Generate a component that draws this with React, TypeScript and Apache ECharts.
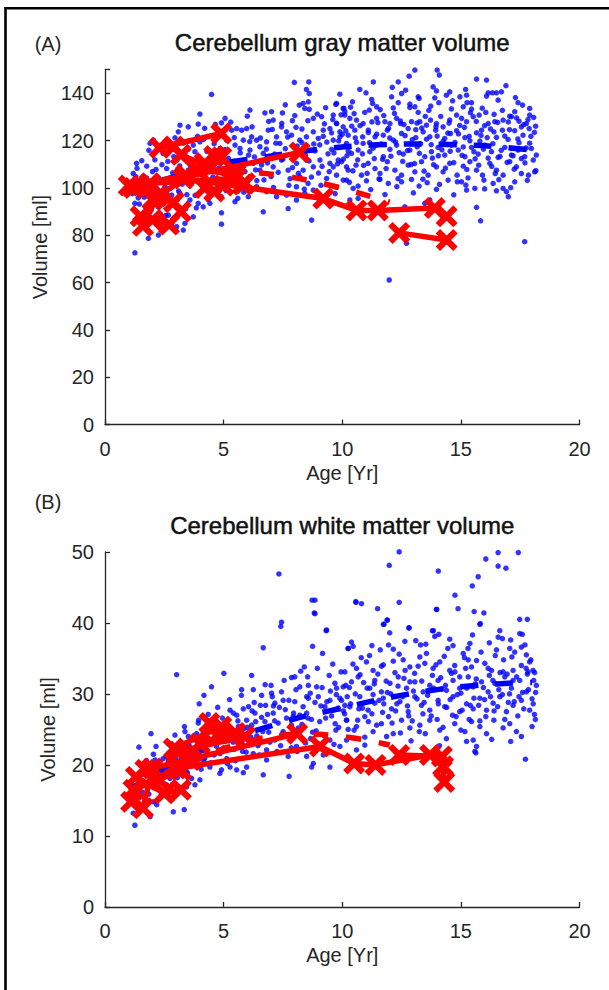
import React, { useEffect, useRef } from "react";
import * as echarts from "echarts";

// ---------- DATA ----------
const xTicks = [0, 5, 10, 15, 20];
const gmYMax = 150;
const wmYMax = 50;

// Panel A: normative scatter [age (yr), volume (ml)]
const gmScatter: number[][] = [
  [1.26,72.6],[1.83,78.7],[2.25,80.1],[1.33,110.4],[1.76,109.2],[1.19,106.1],[1.55,104],[1.12,100.5],[1.62,98.4],[1.26,93.5],
  [2.04,93.5],[1.9,89.9],[2.18,87.8],[2.67,88.5],[2.81,85],[2.39,82.9],[3.37,85],[3.3,82.2],[3.02,83.6],[3.72,87.8],
  [4.14,92],[4.42,93.5],[4.91,89.5],[4.91,84.7],[3.93,93.5],[3.58,94.9],[2.81,97],[3.16,97.7],[2.32,96.3],[2.53,100.5],
  [2.11,102.6],[3.16,104.7],[3.51,107.5],[2.6,108.2],[3.02,111.8],[3.37,114.6],[3.79,115.3],[3.51,116.3],[4.0,119.5],[3.72,118.1],
  [2.32,117.4],[2.81,118.1],[2.04,120.2],[1.9,118.8],[3.09,123.7],[3.51,125.8],[3.93,127],[3.16,126.5],[4.0,131.2],[4.49,139.5],
  [5.06,129.4],[4.91,127.5],[5.34,124.4],[5.55,125.1],[5.76,124.4],[5.97,125.1],[5.13,120.2],[5.48,118.1],[5.83,120.2],[6.18,121.6],
  [5.69,116.7],[6.11,116],[6.39,120.2],[6.53,117.4],[6.67,114.6],[6.11,132.9],[6.74,131.7],[7.02,132.2],[7.48,131.7],[7.9,128.4],
  [7.09,128.7],[7.44,125.8],[7.65,123.7],[7.86,122.3],[6.88,124.4],[7.23,121.6],[6.81,119.5],[7.37,118.8],[8.21,120.2],[8.49,121.6],
  [8.78,123.7],[8.99,120.9],[9.2,124.4],[9.48,125.1],[9.76,127.3],[10.04,125.8],[9.9,121.6],[10.18,118.8],[7.98,144.6],[8.59,144.8],
  [8.49,141.6],[8.61,139.9],[8.35,135.7],[8.19,135],[8.57,136.4],[8.42,133.6],[8.61,133.2],[8.78,129.4],[9.13,130.1],[9.76,135.7],
  [10.04,133.6],[9.62,130.8],[5.83,111.8],[6.25,110.4],[5.55,108.9],[6.53,107.5],[6.81,111.8],[7.09,108.9],[7.44,111.8],[7.72,107.5],
  [8.07,110.4],[8.35,107.5],[8.78,108.9],[9.06,111.8],[9.48,110.4],[9.83,111.8],[10.18,108.9],[8.21,104.7],[8.56,101.9],[8.07,100.5],
  [8.78,99.1],[9.34,104],[9.76,105.4],[10.18,103.3],[6.39,100.5],[6.81,98.4],[7.23,96.3],[7.65,97],[6.04,96.3],[5.76,100.5],
  [5.48,94.2],[6.67,89.9],[7.72,91.3],[8.71,86.4],[8.42,97.7],[8.07,94.9],
  [13.83,150.9],[14.0,149.8],[14.09,147.7],[13.06,149.8],[12.82,147.2],[11.31,144.8],[12.36,144.8],[10.74,141.6],[12.11,142.5],[12.67,141.3],
  [15.66,146],[16.08,145.6],[9.73,135.3],[10.07,133.6],[10.11,132.2],[10.43,136.4],[11.24,137.4],[11.28,135.7],[11.45,134.3],[12.08,138.5],
  [12.36,136],[13.2,138.5],[12.85,134],[13.06,134.3],[13.24,137.8],[13.73,134.6],[14.07,136],[13.83,142.7],[13.97,141],[14.39,139.2],
  [14.53,140.6],[14.96,138.5],[15.24,139.2],[15.45,136],[15.26,136],[15.1,134.3],[16.15,140.2],[16.33,140.2],[16.5,140.2],[16.71,140.6],
  [16.08,138.8],[16.57,137.1],[17.41,136],[17.6,135],[17.9,130.8],[17.83,128.9],[18.07,129.8],[17.27,132.2],[17.06,130.3],[17.45,128.2],
  [17.76,127.2],[18.18,113.9],[18.16,107.3],[17.69,77.3],[15.66,91.8],[15.83,86.1],[11.98,61.1],[12.71,76.6],
  [9.76,127.2],[10.11,130.8],[10.32,129.4],[10.6,128.7],[10.88,127.2],[11.14,132.9],[11.45,129.4],[11.8,128],[12.01,127.2],[12.29,129.4],
  [12.46,127.2],[12.92,128],[13.27,128],[13.55,126.5],[13.72,128.7],[13.97,127.2],[14.25,125.8],[14.53,128.7],[14.82,130.8],[15.03,129.4],
  [15.24,128],[15.52,130.1],[15.77,130.8],[16.15,127.2],[16.43,128],[16.78,128.7],[17.13,130.1],[17.55,125.8],
  [9.62,120.2],[9.9,123.7],[10.25,122.3],[10.53,124.4],[10.86,121.6],[11.1,124.4],[11.38,121.6],[11.73,122.3],[11.9,124.4],[12.15,120.2],
  [12.5,123],[12.78,125.1],[13.1,121.3],[13.41,123.7],[13.69,121.6],[13.94,124.4],[14.32,120.9],[14.56,123],[14.82,124.2],[15.17,121.3],
  [15.38,119.9],[15.66,123.3],[15.87,124.4],[16.11,121.3],[16.39,123.7],[16.75,124.4],[16.99,120.5],[17.27,124.2],[17.62,122.3],[17.88,125.1],
  [9.55,116.3],[9.83,117.1],[10.11,117.7],[10.39,114.6],[10.67,116],[10.88,118.8],[11.16,115.3],[11.45,118.1],[11.73,113.2],[12.01,116.3],
  [12.29,118.1],[12.57,114.3],[12.85,116],[13.16,117.4],[13.48,113.2],[13.76,115.3],[14.04,117.1],[14.32,113.9],[14.6,118.1],[14.89,116],
  [15.17,113.2],[15.45,117.1],[15.73,114.3],[16.01,118.1],[16.29,115.3],[16.57,112.9],[16.85,117.1],[17.13,113.9],[17.41,116],[17.69,113.2],
  [17.97,116.7],[9.62,108.9],[9.97,111.1],[10.25,107.5],[10.58,109.6],[10.81,105.4],[11.09,110.4],[11.38,108.2],[11.59,106.1],[11.9,111.1],
  [12.22,107.5],[12.5,105.4],[12.78,109.6],[13.06,106.8],[13.34,111.1],[13.62,105.4],[13.97,108.9],[14.25,106.8],[14.53,110.4],[14.84,105.4],
  [15.1,109.2],[15.38,111.1],[15.66,107.5],[15.91,105.4],[16.22,110.4],[16.5,107.5],[16.78,105.4],[17.06,111.1],[17.34,108.9],[17.55,106.1],
  [18.11,106.8],[10.04,103.3],[10.46,99.8],[10.67,100.8],[11.02,103],[11.59,103.6],[11.94,101.9],[12.5,102.6],[12.92,103.6],[13.24,100.8],
  [13.58,102.2],[13.97,99.4],[14.46,103.3],[15.03,102.6],[15.24,99.1],[15.59,99.8],[15.97,103.3],[16.36,101.9],[16.78,99.8],[17.27,102.6],
  [16.92,98.4],[15.21,101.2],[10.32,94.9],[10.67,95.6],[12.64,92],[13.48,93.5],[13.69,94.9],[17.0,96.3],[16.5,98.8],
  [5.2,112.5],[5.4,108.3],[5.7,114.8],[5.9,106.9],[6.1,119.6],[6.3,113.1],[6.6,109.7],[6.8,116.4],[7.0,104.8],[7.2,118.9],
  [7.5,112.2],[7.7,121.5],[7.9,108.6],[8.1,117.7],[8.3,124.9],[8.6,111.4],[8.8,118.6],[9.0,106.3],[9.2,121.8],[9.4,114.4],
  [9.6,128.9],[9.8,110.2],[10.0,122.6],[10.2,113.7],[10.4,126.1],[10.6,119.3],[10.9,109.5],[11.1,123.4],[11.3,116.8],[11.5,127.6],
  [11.7,112.1],[12.0,121.1],[12.2,131.5],[12.4,114.9],[12.6,126.8],[12.9,109.9],[13.1,124.6],[13.3,118.7],[13.5,130.2],[13.8,112.6],
  [14.0,121.9],[14.2,116.1],[14.5,127.4],[14.7,110.7],[14.9,122.8],[15.1,117.3],[15.4,131.8],[15.6,112.3],[15.8,119.8],[16.0,126.3],
  [16.3,109.1],[16.5,121.4],[16.7,115.9],[17.0,127.9],[17.2,113.6],[17.4,120.7],[17.7,110.6],[17.9,118.9],[18.1,123.5],
  [5.1,98.9],[5.6,95.6],[6.4,103.1],[7.1,100.2],[7.8,103.9],[8.4,99.5],[9.1,101.1],[9.7,97.6],[10.3,102.4],[11.2,99.3],
  [11.8,97.2],[12.3,100.6],[13.0,97.9],[13.4,103.7],[14.1,101.5],[14.7,97.1],[15.3,104.2],[16.0,99.6],[16.6,103.5],[17.1,100.1],[17.8,103.2],
  [5.3,127.8],[6.0,130.3],[6.9,128.1],[7.6,135.1],[8.0,130.6],[9.3,133.9],[9.9,139.6],[10.5,131.4],[11.0,140.2],[11.6,133.1],
  [12.5,139.9],[13.2,131.9],[13.9,138.1],[14.6,133.4],[15.2,141.6],[15.9,133.7],[16.4,131.1],[16.9,143.2],[17.3,138.2],[17.9,133.6],
  [1.4,95.8],[1.6,101.3],[1.8,97.4],[2.0,106.9],[2.2,99.6],[2.4,109.8],[2.5,93.8],[2.7,103.6],[2.9,113.2],[3.1,98.7],
  [3.3,118.9],[3.5,102.2],[3.6,109.4],[3.8,96.9],[3.9,121.8],[4.1,105.6],[4.3,115.4],[4.4,99.1],[4.6,118.7],[4.8,108.4],
  [4.9,96.3],[1.3,104.8],[1.7,92.1],[2.1,111.9],[2.6,97.9],[3.4,91.2],[4.2,125.2],[4.7,103.3],
  [5.05,116.2],[5.25,103.7],[5.45,121.3],[5.65,110.9],[5.85,98.2],[6.05,113.9],[6.2,125.8],[6.35,107.6],[6.55,121.1],[6.7,103.4],
  [6.85,110.6],[7.05,124.7],[7.15,114.3],[7.3,106.6],[7.45,127.3],[7.6,116.6],[7.75,101.1],[7.95,113.4],[8.05,125.6],[8.15,106.2],
  [8.3,119.1],[8.45,113.8],[8.55,128.4],[8.7,104.6],[8.85,115.7],[8.95,131.2],[9.05,118.2],[9.15,109.1],[9.25,127.1],[9.35,119.4],
  [9.45,106.9],[9.55,123.3],[9.65,114.8],[9.75,100.4],[9.85,119.9],[9.95,130.9],[10.05,112.2],[10.15,124.1],[10.25,115.6],[10.35,134.1],
  [10.45,107.2],[10.55,121.2],[10.65,111.9],[10.75,126.3],[10.85,114.4],[10.95,131.9],[11.05,106.2],[11.15,119.1],[11.25,127.9],[11.35,112.4],
  [11.45,122.7],[11.55,103.8],[11.65,118.6],[11.75,130.6],[11.85,108.2],[11.95,125.2],[12.05,113.4],[12.15,133.8],[12.25,119.4],[12.35,103.9],
  [12.45,128.3],[12.55,111.2],[12.65,122.1],[12.75,115.8],[12.85,135.4],[12.95,120.4],[13.05,110.3],[13.15,127.4],[13.25,114.6],[13.35,125.3],
  [13.45,107.1],[13.55,120.6],[13.65,132.8],[13.75,118.3],[13.85,109.8],[13.95,125.9],[14.05,113.6],[14.15,130.2],[14.25,119.7],[14.35,108.4],
  [14.45,123.2],[14.55,115.5],[14.65,136.8],[14.75,119.2],[14.85,102.6],[14.95,126.4],[15.05,113.8],[15.15,125.6],[15.25,107.8],[15.35,121.8],
  [15.45,133.3],[15.55,115.3],[15.65,128.1],[15.75,109.6],[15.85,122.2],[15.95,116.4],[16.05,131.9],[16.15,112.6],[16.25,124.9],[16.35,118.7],
  [16.45,106.1],[16.55,127.7],[16.65,113.3],[16.75,132.8],[16.85,121.9],[16.95,110.8],[17.05,124.6],[17.15,116.7],[17.25,107.9],[17.35,129.6],
  [17.45,119.1],[17.55,112.4],[17.65,126.8],[17.75,116.9],[17.85,105.4],[17.95,121.8],[18.05,111.8],[18.15,126.1],
  [1.15,97.6],[1.35,108.3],[1.45,93.2],[1.55,111.5],[1.65,96.1],[1.75,104.2],[1.85,115.9],[1.95,90.8],[2.05,98.9],[2.15,107.8],
  [2.25,91.9],[2.35,103.4],[2.45,114.6],[2.55,88.3],[2.65,111.2],[2.75,99.8],[2.85,106.4],[2.95,121.2],[3.05,95.1],[3.15,109.3],
  [3.25,101.6],[3.35,112.4],[3.45,97.2],[3.55,119.9],[3.65,104.1],[3.75,111.6],[3.85,91.6],[3.95,113.2],[4.05,102.9],[4.15,120.5],
  [4.25,108.8],[4.35,95.2],[4.45,112.6],[4.55,104.6],[4.65,126.9],[4.75,98.1],[4.85,116.7],[4.95,111.3],
];

// Panel A: normative mean (blue dashed)
const gmNormMean: number[][] = [
  [1,99],[2,102],[3,105],[4,108],[5,110.5],[6,112],[7,113.5],[8,115],[9,116.3],[10,117.3],
  [11,118],[12,118.4],[13,118.6],[14,118.5],[15,118.2],[16,117.8],[17,117],[18,116],
];
// Panel A: patient mean (red dashed)
const gmPatientMean: number[][] = [
  [1,100],[2,102.5],[3,104.5],[4,106],[5,106.8],[6,106.8],[7,105.8],[8,104.3],[9,102.3],[10,99.8],[11,97],[12,94],
];
// Panel A: patient trajectories (red, X markers)
const gmPatients: number[][][] = [
  [[2.3,117],[4.9,123]],
  [[2.9,117.5],[3.2,114],[5.9,102]],
  [[1.2,100],[8.2,115]],
  [[1.0,101],[1.9,102],[5.5,104]],
  [[3.3,104],[9.2,95.5],[10.6,90.5],[11.5,90.5],[13.9,91.5],[14.4,88]],
  [[12.4,81],[14.4,78]],
  [[1.5,88],[2.0,86.5],[2.7,84.5],[3.2,90]],
  [[1.6,84],[2.2,96.5],[2.9,94]],
  [[3.4,105.5],[4.2,110.5],[4.6,113.5],[4.9,113]],
  [[4.2,100],[4.6,98.5],[5.0,101],[5.8,101.5]],
  [[2.0,95],[3.9,107.5],[5.5,106]],
];

// Panel B: normative scatter [age (yr), volume (ml)]
const wmScatter: number[][] = [
  [7.33,46.9],[8.73,43.2],[8.82,41.4],[7.44,40.1],[7.41,39.5],[9.34,39.0],[6.67,36.5],[8.75,36.7],[9.17,35.7],[10.25,36.4],
  [3.02,32.7],[5.01,32.9],[6.18,32.6],[4.49,31.0],[5.76,30.6],[4.17,29.8],[3.97,28.6],[1.94,24.4],[1.43,22.5],[2.04,21.5],
  [2.11,20.7],[3.93,25.9],[6.6,29.8],[7.02,30.1],[6.29,28.8],[6.77,28.4],[7.16,28.7],[7.51,29.1],[7.44,30.3],[7.86,32.3],
  [8.0,32.4],[8.21,31],[8.54,32.4],[8.57,31.2],[8.57,29.4],[8.92,31],[8.99,29.6],[9.27,28.2],[9.48,29.1],[9.69,31.5],
  [9.76,30.8],[9.83,28],[10.11,28.4],[10.21,29.6],[8.21,27],[7.93,26.8],[8.5,27.3],[7.86,25.6],[8.07,24.4],[8.66,23.7],
  [9.48,23.5],[9.73,24.9],[10.18,26.3],[7.51,24.7],[7.16,23.5],[6.81,22.1],[6.46,23.0],[6.18,25.6],[5.97,26.3],[5.62,25.4],
  [5.41,27.3],[5.27,27.7],[5.83,27.9],[6.32,27.3],[6.74,26.1],[7.09,27.3],[6.04,23.5],[5.8,21.9],[6.25,21.6],[6.81,20.7],
  [7.72,21.2],[8.5,21.2],[8.78,20.2],[9.48,19.7],[7.76,18.4],[5.97,19.7],[5.83,18.9],[4.84,18.8],[4.91,19.3],[5.13,20.9],
  [4.56,21.6],[4.7,22.6],[4.35,23.0],[4.14,23.5],[3.86,24.4],[3.51,24.0],[3.37,24.7],[3.16,23],[2.88,21.6],[2.67,20.7],
  [2.53,19.3],[2.25,18.8],[1.9,17.9],[1.55,17.4],[1.33,16.9],[1.19,17.0],[1.62,15.5],[2.04,14.8],[2.18,14.4],[1.19,13.2],
  [1.26,11.5],[1.9,12.7],[3.34,13.7],[2.88,13.4],[3.79,17.2],[4.0,17.9],[4.42,19.7],[4.14,20.7],[3.44,16.9],[3.09,16.5],
  [2.6,17.2],[2.39,16.0],[3.47,18.8],[3.16,19.3],[2.74,18.1],[8.71,19.7],[6.67,18.6],[8.07,22.6],[8.99,23.0],[9.9,22.6],
  [10.18,20.9],[5.55,19.3],[5.27,19.7],
  [10.57,43.0],[10.81,42.7],[12.4,42.9],[13.97,41.9],[14.88,42.0],[15.56,41.6],[15.97,41.4],[15.8,39.8],[17.48,40.5],[17.8,40.5],
  [11.73,39.8],[11.89,40.4],[12.81,39.3],[13.8,38.9],[14.07,38.4],[14.53,37.7],[14.67,36.8],[16.64,38.9],[16.75,37.8],[16.57,38.0],
  [17.48,38.5],[17.59,38.4],[10.39,37.3],[10.46,36.7],[10.25,36.4],[11.25,36.8],[11.95,36.9],[12.15,36.3],[12.64,37.4],[13.1,37.5],
  [13.52,37.0],[15.49,38.3],[15.38,37.1],[16.5,36.2],[17.06,36.4],[17.27,35.9],[17.76,35.5],[17.9,34.5],[18.04,33.3],[18.11,33.0],
  [18.18,31.2],[18.14,26.4],[17.55,24.0],[17.72,20.8],[15.59,21.9],[15.63,21.7],
  [10.11,33.1],[10.6,33.6],[11.02,34.5],[11.3,33.3],[11.73,34.1],[12.22,33.0],[12.57,34.8],[12.85,33.8],[13.27,35.2],[13.48,34.3],
  [13.83,33.6],[14.11,34.5],[14.53,33.3],[14.74,34.0],[15.1,35.7],[15.31,34.8],[15.66,34.7],[16.01,34.3],[16.29,33.3],[16.78,33.1],
  [17.2,33.3],[17.55,34.0],[17.83,33.1],
  [10.04,31.0],[10.39,31.7],[10.67,32.4],[11.16,30.8],[11.37,31.9],[11.65,30.3],[12.01,31.5],[12.36,32.4],[12.71,30.8],[13.06,31.7],
  [13.41,30.3],[13.69,31.2],[14.04,31.9],[14.39,30.5],[14.67,31.9],[14.95,30.8],[15.31,32.4],[15.52,31.0],[15.87,31.7],[16.15,30.3],
  [16.43,31.5],[16.85,32.4],[17.13,30.8],[17.48,31.9],[17.76,30.3],[18.07,31.9],
  [9.97,29.1],[10.32,28.2],[10.74,29.6],[11.09,27.7],[11.37,28.7],[11.73,29.4],[12.08,27.9],[12.43,28.9],[12.78,27.5],[13.06,29.6],
  [13.34,28.4],[13.69,27.7],[14.04,29.1],[14.32,28.2],[14.67,29.6],[14.95,27.5],[15.24,28.6],[15.52,27.9],[15.8,29.4],[16.08,27.7],
  [16.36,28.7],[16.64,29.6],[16.92,27.5],[17.2,28.4],[17.55,29.1],[17.9,27.7],
  [10.18,26.3],[10.6,25.4],[10.95,26.8],[11.3,24.7],[11.65,25.8],[12.15,24.4],[12.5,26.3],[12.85,25.2],[13.27,25.6],[13.69,26.3],
  [14.11,24.9],[14.39,23.7],[14.74,25.8],[15.17,24.7],[15.45,26.1],[15.8,25.4],[16.08,24.4],[16.39,26.3],[16.78,25.2],[17.06,25.8],
  [17.34,24.7],[15.24,23.3],[15.66,22.6],[15.52,23.5],[10.18,23.5],[10.95,22.8],[11.87,24.0],
  [12.4,50.0],[11.98,48.1],[14.05,47.3],[16.05,49.0],[16.57,49.9],[17.42,49.9],[16.57,48.0],[16.9,47.7],[15.73,46.5],[15.48,45.2],
  [8.85,43.2],[8.85,41.3],[10.58,42.9],[11.49,42.0],[14.75,43.9],[13.98,41.9],[9.32,38.9],[11.9,40.4],[11.76,39.8],[12.82,39.3],
  [13.84,38.9],[15.82,39.9],
  [2.3,19.9],[2.6,21.2],[2.8,18.7],[3.0,20.8],[3.2,22.1],[3.4,19.6],[3.6,21.9],[3.8,20.3],[4.0,22.8],[4.2,20.9],
  [4.4,23.6],[4.6,21.4],[4.8,24.2],[5.0,22.4],[5.2,25.1],[5.4,23.2],[5.6,26.2],[5.8,22.9],[6.0,25.3],[6.2,27.6],
  [6.4,24.1],[6.6,26.7],[6.9,24.6],[7.1,28.3],[7.3,25.9],[7.6,27.8],[7.8,23.9],[8.0,28.9],[8.3,25.7],[8.5,29.6],
  [8.7,26.4],[8.9,24.8],[9.1,28.3],[9.3,26.6],[9.5,30.4],[9.7,25.8],[9.9,29.4],[10.1,27.2],[10.3,30.9],[10.5,24.9],
  [10.7,27.9],[10.9,31.6],[11.1,26.1],[11.3,29.9],[11.5,32.8],[11.7,27.4],[11.9,30.2],[12.1,25.9],[12.3,28.6],[12.6,32.2],
  [12.8,26.9],[13.0,30.4],[13.2,33.9],[13.4,27.2],[13.6,29.8],[13.8,32.6],[14.0,26.4],[14.2,30.7],[14.4,28.1],[14.6,32.9],
  [14.8,26.8],[15.0,30.1],[15.2,33.6],[15.4,28.4],[15.6,31.4],[15.8,26.2],[16.0,29.2],[16.2,32.6],[16.4,27.6],[16.6,30.6],
  [16.8,34.8],[17.0,28.8],[17.2,31.9],[17.4,26.9],[17.6,30.2],[17.8,32.8],[18.0,29.3],[18.1,27.1],
  [7.0,31.2],[8.4,33.8],[9.6,34.2],[10.8,35.1],[11.6,36.2],[12.4,35.6],[13.3,36.9],[14.3,35.3],[15.3,36.4],[16.2,37.2],
  [17.1,37.6],[17.7,36.9],[13.9,38.1],[12.0,38.6],
  [8.1,21.9],[9.2,21.4],[10.6,22.1],[11.8,22.9],[12.9,23.4],[13.5,24.4],[14.1,22.7],[15.0,24.9],[16.3,23.6],[17.1,23.3],
  [18.0,25.4],[5.5,20.6],[6.5,21.4],[7.4,22.7],
  [1.35,15.4],[1.45,18.9],[1.55,16.2],[1.75,20.6],[1.85,15.9],[1.95,19.2],[2.05,17.4],[2.15,22.6],[2.35,15.6],[2.45,20.9],
  [2.55,18.3],[2.65,23.1],[2.75,16.8],[2.85,19.9],[2.95,24.2],[3.05,18.2],[3.25,21.4],[3.35,25.4],[3.45,19.0],[3.55,22.7],
  [3.65,18.1],[3.75,23.9],[3.85,21.2],[3.95,26.3],[4.05,19.4],[4.15,24.6],[4.25,22.1],[4.35,27.1],[4.45,20.3],[4.55,25.0],
  [4.65,23.4],[4.75,28.1],[4.85,21.6],[4.95,26.6],[5.05,24.3],[5.15,20.2],[5.25,29.2],[5.35,24.9],[5.45,22.2],[5.55,27.0],
  [5.65,24.0],[5.75,29.8],[5.85,25.1],[5.95,21.8],[6.05,28.2],[6.15,23.9],[6.25,30.6],[6.35,26.1],[6.45,22.7],[6.55,28.4],
  [6.65,24.7],[6.75,31.3],[6.85,27.1],[6.95,23.2],[7.05,29.6],[7.15,26.2],[7.25,21.9],[7.35,28.1],[7.45,24.3],[7.55,31.9],
  [7.65,26.6],[7.75,29.1],[7.85,22.4],[7.95,27.3],[8.05,30.6],[8.15,25.2],[8.25,33.2],[8.35,28.2],[8.45,23.1],[8.55,26.6],
  [8.65,30.1],[8.75,24.6],[8.85,28.8],[8.95,33.6],[9.05,26.1],[9.15,30.9],[9.25,24.1],[9.35,28.9],[9.45,32.6],[9.55,26.9],
  [9.65,22.9],[9.75,29.9],[9.85,25.3],[9.95,33.1],[10.05,27.6],[10.15,31.2],[10.25,25.0],[10.35,28.6],[10.45,34.2],[10.55,30.0],
  [10.65,26.3],[10.75,32.7],[10.85,28.0],[10.95,23.9],[11.05,30.8],[11.15,35.4],[11.25,27.2],[11.35,31.4],[11.45,25.6],[11.55,29.1],
  [11.65,33.9],[11.75,28.6],[11.85,31.8],[11.95,26.8],[12.05,30.0],[12.15,34.6],[12.25,27.6],[12.35,31.1],[12.45,24.5],[12.55,29.6],
  [12.65,33.3],[12.75,28.3],[12.85,31.7],[12.95,26.2],[13.05,32.9],[13.15,29.3],[13.25,24.7],[13.35,31.8],[13.45,28.8],[13.55,35.7],
  [13.65,30.4],[13.75,26.9],[13.85,30.8],[13.95,34.1],[14.05,28.6],[14.15,32.3],[14.25,25.3],[14.35,31.2],[14.45,36.4],[14.55,29.2],
  [14.65,27.0],[14.75,33.1],[14.85,29.9],[14.95,32.4],[15.05,27.7],[15.15,35.1],[15.25,30.8],[15.35,26.4],[15.45,33.8],[15.55,29.4],
  [15.65,32.1],[15.75,28.4],[15.85,35.9],[15.95,30.9],[16.05,26.8],[16.15,33.6],[16.25,29.6],[16.35,31.9],[16.45,35.4],[16.55,28.2],
  [16.65,33.0],[16.75,29.9],[16.85,26.4],[16.95,32.8],[17.05,30.0],[17.15,35.2],[17.25,28.9],[17.35,32.4],[17.45,29.6],[17.55,36.6],
  [17.65,27.9],[17.75,33.6],[17.85,30.6],[17.95,34.8],[18.05,28.6],[18.15,30.2],
];

// Panel B: normative mean (blue dashed)
const wmNormMean: number[][] = [
  [1,16.5],[2,18.5],[3,20.3],[4,21.9],[5,23.3],[6,24.5],[7,25.5],[8,26.5],[9,27.3],[10,28.0],
  [11,28.8],[12,29.5],[13,30.1],[14,30.6],[15,31.0],[16,31.3],[17,31.5],[18,31.6],
];
// Panel B: patient mean (red dashed)
const wmPatientMean: number[][] = [
  [1,15.5],[2,17.5],[3,19.3],[4,20.9],[5,22.3],[6,23.3],[7,24.0],[8,24.3],[9,24.3],[10,24.0],[11,23.5],[12,22.8],
];
// Panel B: patient trajectories
const wmPatients: number[][][] = [
  [[2.9,22.3],[4.9,25.4]],
  [[3.1,21.9],[5.9,24.0]],
  [[1.7,19.3],[8.1,24.4]],
  [[1.1,14.8],[1.6,13.9],[2.0,19.5]],
  [[3.0,19.5],[9.06,22.6],[10.5,20.2],[11.4,20.0],[13.7,21.4],[14.25,19.8]],
  [[12.4,21.4],[14.2,21.2],[14.3,17.6]],
  [[1.3,18.3],[2.5,16.0],[3.2,16.5]],
  [[1.2,16.5],[3.2,19.3],[3.6,21.6]],
  [[3.6,20.7],[4.4,25.9],[4.8,24.4]],
  [[2.3,17.9],[4.0,23.0],[5.5,24.5]],
];

const panelTitles = ["Cerebellum gray matter volume", "Cerebellum white matter volume"];
const panelTags = ["(A)", "(B)"];
const xName = "Age [Yr]";
const yName = "Volume [ml]";

// ---------- STYLE ----------
const FONT = "'Liberation Sans', Arial, Helvetica, sans-serif";
const TXT = "#262626";
const BLUE = "#0000ff";
const RED = "#ff0000";
const XMARK = "path://M2,0 L5,3 L8,0 L10,2 L7,5 L10,8 L8,10 L5,7 L2,10 L0,8 L3,5 L0,2 Z";

const GRID_LEFT = 105;
const GRID_W = 474.5;
const GRID_H = 355;
const gridTops = [69.6, 551.9];

function buildOption() {
  const grids = gridTops.map((t) => ({ left: GRID_LEFT, top: t, width: GRID_W, height: GRID_H, outerBoundsMode: "none" }));
  const xAxes = [0, 1].map((i) => ({
    type: "value", gridIndex: i, min: xTicks[0], max: xTicks[xTicks.length - 1], interval: 5,
    axisLine: { show: true, onZero: false, lineStyle: { color: TXT, width: 1.3 } },
    axisTick: { show: true, inside: true, length: 5, lineStyle: { color: TXT, width: 1.3 } },
    axisLabel: { color: TXT, fontSize: 20, fontFamily: FONT, margin: 14 },
    splitLine: { show: false },
    name: xName, nameLocation: "middle", nameGap: 38,
    nameTextStyle: { color: TXT, fontSize: 20, fontFamily: FONT },
  }));
  const yMaxes = [gmYMax, wmYMax];
  const yIntervals = [20, 10];
  const yAxes = [0, 1].map((i) => ({
    type: "value", gridIndex: i, min: 0, max: yMaxes[i], interval: yIntervals[i],
    axisLine: { show: true, onZero: false, lineStyle: { color: TXT, width: 1.3 } },
    axisTick: { show: true, inside: true, length: 5, lineStyle: { color: TXT, width: 1.3 } },
    axisLabel: { color: TXT, fontSize: 20, fontFamily: FONT, margin: 11,
      formatter: (v: number) => (v > yMaxes[i] - 1e-9 && yMaxes[i] % yIntervals[i] !== 0 ? "" : String(v)) },
    splitLine: { show: false },
    name: yName, nameLocation: "middle", nameGap: 47,
    nameTextStyle: { color: TXT, fontSize: 20, fontFamily: FONT },
  }));

  const series: any[] = [];
  const scatters = [gmScatter, wmScatter];
  const norms = [gmNormMean, wmNormMean];
  const pmeans = [gmPatientMean, wmPatientMean];
  const pats = [gmPatients, wmPatients];
  [0, 1].forEach((i) => {
    series.push({
      type: "scatter", xAxisIndex: i, yAxisIndex: i, data: scatters[i], symbol: "circle", symbolSize: 5.5,
      itemStyle: { color: BLUE }, z: 2, clip: true, silent: true,
    });
    series.push({
      type: "line", xAxisIndex: i, yAxisIndex: i, data: norms[i], symbol: "none", smooth: 0.3,
      lineStyle: { color: BLUE, width: 5.5, type: [18, 17], cap: "butt" }, z: 3, silent: true,
    });
    pats[i].forEach((traj) => {
      series.push({
        type: "line", xAxisIndex: i, yAxisIndex: i, data: traj, symbol: XMARK, symbolSize: 22,
        showAllSymbol: true,
        lineStyle: { color: RED, width: 5.5 }, itemStyle: { color: RED }, z: 4, silent: true,
      });
    });
    series.push({
      type: "line", xAxisIndex: i, yAxisIndex: i, data: pmeans[i], symbol: "none", smooth: 0.3,
      lineStyle: { color: RED, width: 5.5, type: [15, 18], cap: "butt" }, z: 5, silent: true,
    });
  });

  const cx = GRID_LEFT + GRID_W / 2;
  const titleStyle = (text: string) => ({
    text, font: `24px ${FONT}`, fill: "#111", stroke: "#111", lineWidth: 0.5, align: "center", verticalAlign: "middle",
  });
  const graphic: any[] = [
    { type: "rect", shape: { x: 5.5, y: 8.3, width: 900, height: 1200 }, style: { fill: "none", stroke: "#000", lineWidth: 2.6 }, silent: true },
    { type: "text", x: 48, y: 44, style: { text: panelTags[0], font: `20px ${FONT}`, fill: TXT, align: "center", verticalAlign: "middle" } },
    { type: "text", x: cx, y: 42, style: titleStyle(panelTitles[0]) },
    { type: "text", x: 48, y: 502, style: { text: panelTags[1], font: `20px ${FONT}`, fill: TXT, align: "center", verticalAlign: "middle" } },
    { type: "text", x: cx, y: 525, style: titleStyle(panelTitles[1]) },
  ];

  return {
    animation: false,
    backgroundColor: "#ffffff",
    grid: grids,
    xAxis: xAxes,
    yAxis: yAxes,
    series,
    graphic,
  };
}

export default function App() {
  const ref = useRef<HTMLDivElement>(null);
  useEffect(() => {
    if (!ref.current) return;
    const chart = echarts.init(ref.current, undefined, { renderer: "svg" });
    chart.setOption(buildOption() as any);
    return () => chart.dispose();
  }, []);
  return (
    <div
      ref={ref}
      style={{ position: "fixed", left: 0, top: 0, width: 609, height: 990, background: "#fff" }}
    />
  );
}
